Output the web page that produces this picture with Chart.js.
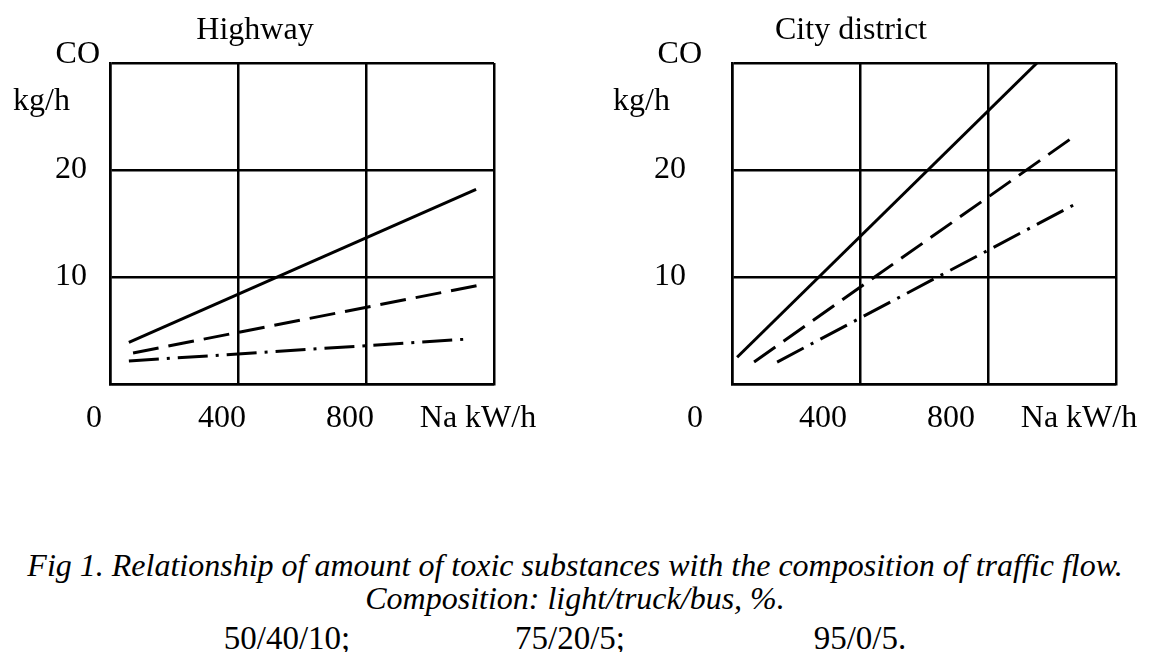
<!DOCTYPE html>
<html>
<head>
<meta charset="utf-8">
<script src="https://cdn.jsdelivr.net/npm/chart.js@4/dist/chart.umd.min.js"></script>
<style>
  body { margin: 0; background: #fff; }
  #wrap { position: relative; width: 1150px; height: 652px; font-family: 'Liberation Serif', 'Times New Roman', serif; color: #000; }
  .panel { position: absolute; top: 0; width: 575px; height: 460px; }
  .cap { position: absolute; left: 0; width: 1150px; text-align: center; font-size: 32px; line-height: 34px; font-style: italic; white-space: nowrap; }
  .comp { position: absolute; top: 620px; font-size: 33px; line-height: 36px; transform: translateX(-50%); white-space: nowrap; }
</style>
</head>
<body>
<div id="wrap">
  <div class="panel" style="left:0"><canvas id="highway"></canvas></div>
  <div class="panel" style="left:575px"><canvas id="city"></canvas></div>
  <div class="cap" style="top:548px">Fig 1. Relationship of amount of toxic substances with the composition of traffic flow.</div>
  <div class="cap" style="top:581px">Composition: light/truck/bus, %.</div>
  <div class="comp" style="left:287px">50/40/10;</div>
  <div class="comp" style="left:570px">75/20/5;</div>
  <div class="comp" style="left:860px">95/0/5.</div>
</div>
<script>
// axis ticks
const xTicks = [0, 400, 800, 1200];
const xTickLabels = ['0', '400', '800', 'Na kW/h'];
const yTicks = [0, 10, 20, 30];
const yTickLabels = ['', '10', '20', ''];

// traffic composition (light/truck/bus, %)
const compositions = ['50/40/10', '75/20/5', '95/0/5'];

// Highway: power Na (kW/h) -> CO (kg/h)
const hwSolidX = [59, 1144];
const hwSolidY = [3.9, 18.2];
const hwDashX = [72, 1156];
const hwDashY = [2.9, 9.25];
const hwDotX = [59, 1119];
const hwDotY = [2.15, 4.2];

// City district
const cdSolidX = [16, 953];
const cdSolidY = [2.5, 30];
const cdDashX = [69, 1072];
const cdDashY = [2.05, 23.2];
const cdDotX = [141, 1078];
const cdDotY = [2.05, 16.9];

const FONT = 'Liberation Serif';
const dashes = [[], [26, 10], [30, 8, 3, 8]];

function points(xs, ys) {
  return xs.map((x, i) => ({ x: x, y: ys[i] }));
}

// draws the panel title and the CO / kg/h axis caption
const axisNotes = {
  id: 'axisNotes',
  afterDraw(chart, args, opts) {
    const ctx = chart.ctx;
    const a = chart.chartArea;
    ctx.save();
    ctx.fillStyle = '#000';
    ctx.font = '32px ' + FONT;
    ctx.textBaseline = 'alphabetic';
    ctx.textAlign = 'center';
    ctx.fillText(opts.title, a.left + opts.titleX, 39);
    ctx.textAlign = 'right';
    ctx.fillText('CO', a.left - opts.coGap, a.top);
    ctx.fillText('kg/h', a.left - opts.unitGap, 110);
    ctx.restore();
  }
};

function makePanel(id, series, cfg) {
  const datasets = series.map((s, i) => ({
    label: compositions[i],
    data: s,
    borderColor: '#000',
    borderWidth: 3,
    borderDash: dashes[i],
    pointRadius: 0,
    fill: false
  }));
  return new Chart(document.getElementById(id), {
    type: 'line',
    data: { datasets: datasets },
    plugins: [axisNotes],
    options: {
      responsive: true,
      maintainAspectRatio: false,
      animation: false,
      layout: { padding: { top: 63, right: cfg.right, left: 0, bottom: 0 } },
      plugins: {
        legend: { display: false },
        tooltip: { enabled: false },
        axisNotes: cfg.notes
      },
      scales: {
        x: {
          type: 'linear',
          min: 0,
          max: 1200,
          afterBuildTicks: (s) => { s.ticks = xTicks.map(v => ({ value: v })); },
          afterFit: (s) => { s.height = 76; s.paddingLeft = 0; s.paddingRight = 0; },
          ticks: {
            callback: (v) => xTickLabels[xTicks.indexOf(v)],
            color: '#000',
            font: { family: FONT, size: 32 },
            padding: 15,
            labelOffset: cfg.xLabelOffset,
            maxRotation: 0,
            autoSkip: false
          },
          grid: { color: '#000', lineWidth: 2.5, drawTicks: false },
          border: { color: '#000', width: 2.5 }
        },
        y: {
          min: 0,
          max: 30,
          afterBuildTicks: (s) => { s.ticks = yTicks.map(v => ({ value: v })); },
          afterFit: (s) => { s.width = cfg.yWidth; s.paddingTop = 0; s.paddingBottom = 0; },
          ticks: {
            callback: (v) => yTickLabels[yTicks.indexOf(v)],
            color: '#000',
            font: { family: FONT, size: 32 },
            padding: cfg.yPad,
            autoSkip: false
          },
          grid: { color: '#000', lineWidth: 2.5, drawTicks: false },
          border: { color: '#000', width: 2.5 }
        }
      }
    }
  });
}

makePanel('highway',
  [points(hwSolidX, hwSolidY), points(hwDashX, hwDashY), points(hwDotX, hwDotY)],
  { right: 81, yWidth: 110, yPad: 23, xLabelOffset: -16,
    notes: { title: 'Highway', titleX: 145, coGap: 10, unitGap: 40 } });

makePanel('city',
  [points(cdSolidX, cdSolidY), points(cdDashX, cdDashY), points(cdDotX, cdDotY)],
  { right: 34, yWidth: 157, yPad: 46, xLabelOffset: -37,
    notes: { title: 'City district', titleX: 119, coGap: 30, unitGap: 62 } });
</script>
</body>
</html>
